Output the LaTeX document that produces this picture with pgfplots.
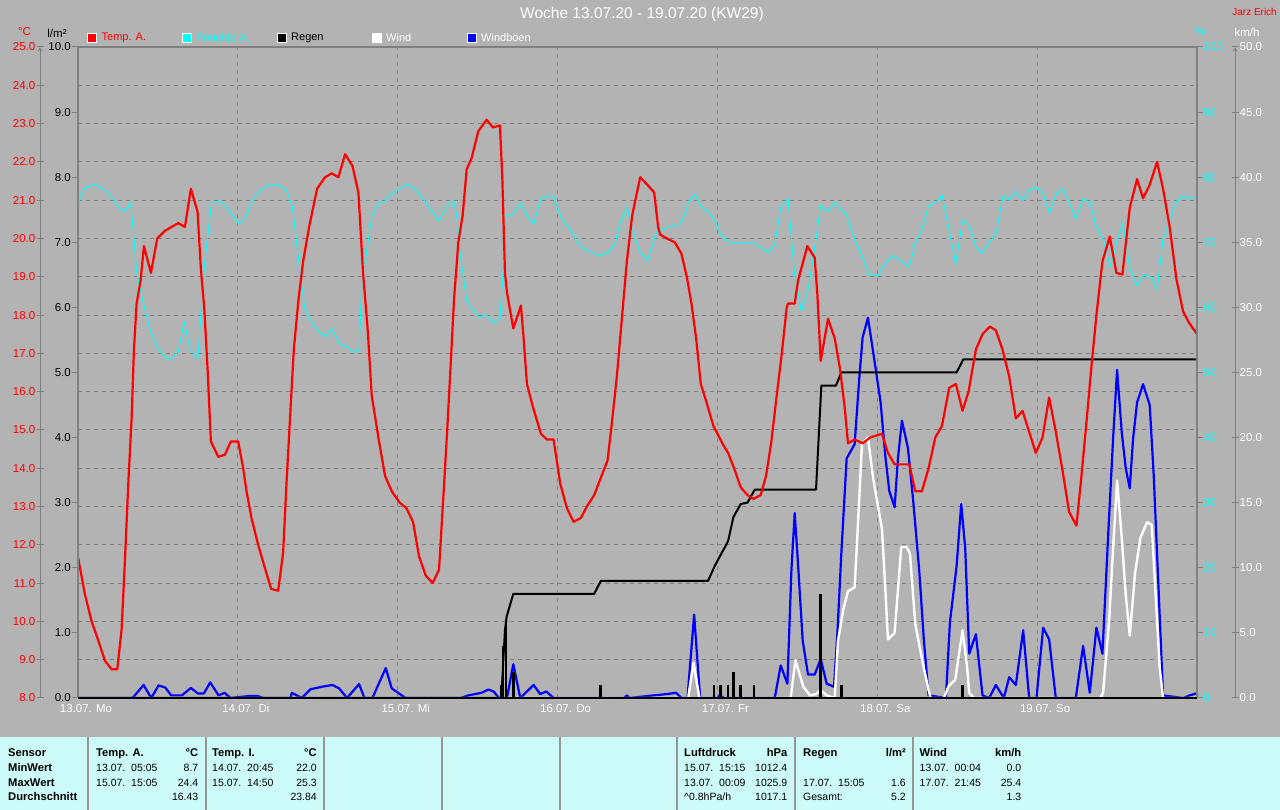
\documentclass[border=0pt]{standalone}
\usepackage{fontspec}
\setmainfont{Liberation Sans}
\usepackage{pgfplots}
\pgfplotsset{compat=1.18}
\definecolor{bg}{RGB}{179,179,179}
\definecolor{tbl}{RGB}{204,250,248}
\definecolor{grd}{RGB}{128,128,128}
\definecolor{sep}{RGB}{150,150,150}
\definecolor{cyan}{RGB}{0,255,255}
\definecolor{red}{RGB}{255,0,0}
\definecolor{blue}{RGB}{0,0,255}
\newcommand\tickfont{\fontsize{11.5}{13}\selectfont}
\newcommand\tabfont{\fontsize{10.5}{12}\selectfont}
\newcommand\hd[1]{{\fontsize{11.2}{12}\selectfont\bfseries #1}}
\pgfplotsset{base/.style={scale only axis, width=1119pt, height=651pt, xmin=0, xmax=168, anchor=south west},
  scaleax/.style={base, axis x line=none, y axis line style={-}, tick style={grd, line width=1pt}, yticklabel style={font=\tickfont}}}

\pgfplotstableread{
h T
0 11.68
1.05 10.7
2.05 10.0
3.05 9.5
4.05 8.97
5.05 8.75
5.9 8.75
6.55 9.8
7.05 11.6
7.55 13.6
8.05 15.3
8.4 17.1
8.8 18.3
9.4 18.9
9.9 19.8
10.95 19.1
11.9 20.0
13.05 20.2
14.05 20.3
15.05 20.4
16.05 20.3
16.95 21.3
17.95 20.7
18.45 19.2
18.95 18.2
19.45 16.6
19.95 14.7
21.05 14.3
22.05 14.35
22.95 14.7
24.05 14.7
24.8 14.0
25.3 13.4
26.05 12.7
27.05 12.0
28.05 11.4
29.0 10.85
30.05 10.8
30.8 11.8
31.3 13.6
31.8 15.2
32.4 17.1
33.1 18.4
33.8 19.4
34.7 20.3
35.9 21.3
37.1 21.6
38.1 21.7
39.1 21.6
40.1 22.2
41.2 21.9
42.1 21.2
42.8 19.1
43.5 17.6
44.1 15.9
45.1 14.8
46.1 13.8
47.1 13.4
48.3 13.1
49.3 12.96
50.3 12.6
51.2 11.7
52.2 11.2
53.25 11.0
54.2 11.35
54.8 13.1
55.4 14.9
55.95 16.7
56.45 18.4
57.1 19.9
57.75 20.6
58.35 21.8
59.1 22.1
60.1 22.8
61.35 23.1
62.3 22.9
63.35 22.95
63.7 21.6
64.1 19.1
64.4 18.6
65.35 17.65
66.5 18.25
66.9 17.4
67.4 16.2
68.3 15.6
69.5 14.9
70.4 14.75
71.4 14.75
72.4 13.6
73.4 12.96
74.4 12.6
75.5 12.7
76.4 13.0
77.5 13.3
78.6 13.8
79.5 14.2
80.1 15.1
80.9 16.4
81.6 17.8
82.4 19.4
83.2 20.6
84.4 21.6
85.5 21.4
86.5 21.2
87.1 20.3
87.4 20.1
88.4 20.0
89.6 19.9
90.6 19.6
91.4 19.0
92.1 18.3
92.8 17.4
93.5 16.2
94.4 15.7
95.4 15.1
96.9 14.6
97.6 14.4
98.5 14.0
99.5 13.5
100.5 13.3
101.4 13.2
102.5 13.3
103.3 13.8
104.1 14.7
104.9 15.9
105.6 16.9
106.4 18.2
106.6 18.3
107.6 18.3
108.1 18.9
109.5 19.8
110.6 19.5
111.0 18.55
111.5 16.8
112.6 17.9
113.6 17.4
114.4 16.6
115.1 15.6
115.6 14.65
116.6 14.75
117.8 14.65
118.9 14.8
120.7 14.9
121.6 14.4
122.6 14.1
123.9 14.1
124.8 14.1
125.7 13.4
126.7 13.4
127.7 14.0
128.7 14.8
129.7 15.1
130.8 16.1
131.8 16.2
132.8 15.5
133.7 16.0
134.8 17.1
135.8 17.5
136.9 17.7
137.8 17.6
138.8 17.1
139.8 16.4
140.8 15.3
141.8 15.5
142.8 14.95
143.8 14.4
144.8 14.8
145.8 15.85
146.8 14.95
147.8 13.95
148.8 12.86
149.9 12.5
150.6 13.7
151.4 15.2
152.2 16.75
152.9 18.0
153.8 19.4
154.9 20.05
155.9 19.1
156.8 19.06
157.9 20.8
159.0 21.55
159.9 21.05
160.9 21.4
162.0 22.0
162.9 21.3
163.9 20.3
164.9 18.95
165.9 18.1
166.8 17.8
168 17.5
}\temp

\pgfplotstableread{
h H
0 76.0
1.05 78.3
2.55 78.9
4.05 78.0
5.3 76.7
6.05 75.4
7.05 74.7
7.9 76.1
8.4 70.7
8.8 65.4
9.8 60.7
10.8 56.6
11.9 53.9
12.9 52.5
13.9 51.9
15.05 53.3
15.95 57.8
16.8 53.6
18.0 52.1
18.45 59.0
19.05 67.2
20.05 76.1
21.05 76.3
22.05 75.7
23.1 74.3
24.05 72.9
25.1 73.6
26.1 76.3
27.3 78.0
28.8 78.9
30.3 78.8
31.3 78.0
32.2 75.4
32.8 70.1
33.4 64.8
34.1 59.5
35.8 56.6
37.2 55.5
38.2 56.7
39.2 54.5
40.6 53.8
41.3 53.1
42.2 53.3
42.7 66.0
43.2 67.7
44.1 73.9
45.1 76.0
46.1 76.3
47.1 77.4
48.2 78.2
49.6 78.9
50.8 78.0
52.3 76.0
54.2 73.3
55.35 75.4
56.35 76.4
56.85 74.2
57.35 68.4
58.35 61.0
60.1 58.5
61.35 58.8
62.35 57.6
63.35 58.4
63.85 66.0
64.25 74.2
65.25 74.2
66.45 76.1
67.5 73.9
68.4 72.8
69.5 76.7
70.4 77.1
71.4 77.1
72.5 73.9
74.1 71.6
75.6 69.2
77.1 68.5
78.4 67.9
79.6 68.4
80.6 69.8
81.4 73.0
82.4 75.4
83.1 72.2
84.4 68.4
85.5 67.2
86.9 71.7
88.4 72.2
90.6 72.9
91.6 76.0
92.6 77.4
93.6 75.4
94.6 74.8
95.6 73.3
96.6 71.0
97.9 69.9
101.6 69.9
103.6 68.4
104.6 69.6
105.5 75.3
106.6 76.7
107.6 64.8
108.6 59.4
109.6 62.6
110.6 69.1
111.5 75.6
112.6 74.7
113.6 76.1
115.4 74.2
116.6 70.4
117.7 68.0
118.8 65.0
120.2 64.9
120.9 66.4
122.4 68.0
123.7 67.0
124.8 66.2
125.7 69.9
126.7 72.0
127.7 75.6
128.9 76.2
129.7 77.3
130.8 71.8
131.8 66.7
132.8 73.4
133.8 72.6
134.8 69.4
135.7 68.3
136.8 69.9
137.8 71.3
138.9 77.2
139.8 76.5
140.9 77.8
141.9 76.4
142.8 78.0
143.9 78.4
144.9 77.5
145.8 74.5
146.9 77.5
147.9 78.2
148.8 76.1
149.8 73.6
150.9 76.7
151.9 76.1
152.9 72.4
153.9 70.5
155.0 66.3
155.9 69.9
156.9 73.0
157.9 66.0
159.0 63.3
160.0 65.0
161.2 64.6
162.0 62.7
162.9 70.5
164.0 73.8
165.0 76.4
166.0 77.1
167.0 76.7
168 77.2
}\hum

\pgfplotstableread{
h R
0 0
63.5 0
63.65 0.17
63.85 0.58
64.1 1.04
64.35 1.25
65.35 1.6
77.5 1.6
78.5 1.8
94.6 1.8
95.6 2.03
96.6 2.22
97.6 2.41
98.4 2.78
99.5 2.98
100.5 3.0
101.6 3.2
110.8 3.2
111.6 4.8
113.8 4.8
114.6 5.0
131.9 5.0
132.9 5.2
168 5.2
}\raincum

\pgfplotstableread{
h R
63.5 0.2
63.8 0.8
64.25 1.2
65.35 0.4
78.4 0.2
95.5 0.2
96.5 0.2
97.6 0.2
98.4 0.4
99.5 0.2
101.5 0.2
111.5 1.6
114.6 0.2
132.8 0.2
}\rainbar

\pgfplotstableread{
h W
0 0
91.6 0
92.4 2.7
93.3 0
107.0 0
107.7 2.9
108.9 0.86
109.9 0.2
110.8 0.3
111.5 0.6
112.4 0.2
113.6 0
114.1 4.4
114.9 6.8
115.6 8.2
116.6 8.5
117.0 12.4
117.7 19.5
118.6 20.0
119.4 16.8
120.7 13.0
121.2 8.4
121.6 4.5
122.6 5.0
123.6 11.6
124.4 11.6
124.9 11.1
125.7 5.7
126.7 3.0
127.7 0.6
128.0 0
130.0 0
130.7 0.9
131.7 1.4
132.8 5.2
133.5 2.3
133.8 0.4
134.5 0
153.5 0
153.9 0.4
154.8 5.9
155.4 11.5
156.0 16.7
156.7 12.3
157.3 7.9
157.9 4.8
158.7 9.6
159.5 12.3
160.5 13.5
161.2 13.3
161.7 8.7
162.4 2.3
162.9 0
168 0
}\wind

\pgfplotstableread{
h W
0 0
8.2 0
9.85 1.0
11.0 0
12.1 0.97
13.1 0.8
14.0 0.2
15.6 0.2
16.95 0.77
18.0 0.35
18.9 0.35
19.85 1.2
21.1 0.2
22.0 0.4
22.9 0
25.7 0.15
27.0 0.15
27.8 0
31.9 0
32.1 0.4
33.6 0
34.9 0.67
36.7 0.87
38.2 1.0
39.2 0.74
40.4 0
42.2 1.07
43.0 0
44.2 0
46.2 2.3
47.1 0.74
48.6 0.2
49.2 0
57.5 0
58.6 0.2
60.6 0.4
61.6 0.65
62.4 0.5
63.2 0
64.4 0
65.35 2.6
66.4 0
68.4 1.0
69.4 0.3
70.3 0.5
71.4 0
82.0 0
82.4 0.2
82.8 0
86.4 0.2
88.4 0.3
89.8 0.4
90.6 0
91.5 0
92.5 6.4
93.4 0
96.0 0
96.4 0.2
97 0
104.6 0
105.5 2.5
106.5 1.1
107.1 9.75
107.6 14.2
108.1 10.3
108.8 4.4
109.6 1.8
110.6 1.8
111.5 3.0
112.4 1.1
113.5 0.86
114.0 4.9
114.6 11.1
115.4 18.4
116.6 19.5
117.3 24.6
117.8 27.7
118.6 29.2
119.4 26.5
120.5 22.7
121.2 18.6
121.8 15.9
122.6 14.65
123.1 18.4
123.7 21.3
124.6 19.2
125.4 15.1
126.3 9.75
127.0 4.4
127.7 0.2
130.3 0
130.9 5.8
131.9 10.1
132.6 14.9
133.2 11.5
133.8 3.4
134.8 4.9
135.8 0.2
136.8 0
137.8 1.0
139.0 0
139.8 1.6
140.8 1.0
141.9 5.2
142.8 0
143.9 0
144.9 5.4
145.8 4.5
146.8 0
149.8 0
150.9 4.0
151.9 0.4
152.9 5.4
153.8 3.4
154.7 12.9
155.4 19.9
156.0 25.2
156.7 20.4
157.3 17.65
157.9 16.1
158.4 19.9
159.0 22.7
159.9 24.1
160.9 22.5
161.5 17.1
162.2 8.7
162.9 0.2
165.9 0
166.9 0.2
167.9 0.35
168 0.4
}\gust

\begin{document}
\begin{tikzpicture}[x=1pt,y=1pt]
\path[use as bounding box] (0,0) rectangle (1280,810);
\fill[bg] (0,0) rectangle (1280,810);
\fill[tbl] (0,0) rectangle (1280,73);
\foreach \xx in {88,206,324,442,560,677,795,913} \draw[sep, line width=1.2pt] (\xx,0) -- (\xx,73);

% grid axis
\begin{axis}[base, at={(78pt,112pt)}, ymin=8, ymax=25,
  ytick={8,...,25}, yticklabels={},
  xtick={0,24,...,168},
  xticklabels={13.07. Mo,14.07. Di,15.07. Mi,16.07. Do,17.07. Fr,18.07. Sa,19.07. So,},
  xticklabel style={font=\tickfont, text=white, xshift=8pt, yshift=-3pt},
  grid=major, major grid style={grd, dash pattern=on 4pt off 4pt, line width=1pt},
  axis line style={draw=none}, major tick length=0pt]
\addplot[draw=none] coordinates {(0,8) (168,25)};
\end{axis}

% wind axis data
\begin{axis}[base, at={(78pt,112pt)}, ymin=0, ymax=50, hide axis]
\addplot[blue, line width=2.2pt, line join=round] table[x=h,y=W] {\gust};
\addplot[white, line width=2.4pt, line join=round] table[x=h,y=W] {\wind};
\end{axis}

% rain
\begin{axis}[base, at={(78pt,112pt)}, ymin=0, ymax=10, hide axis]
\addplot[black, ycomb, line width=2.6pt] table[x=h,y=R] {\rainbar};
\addplot[black, line width=2pt, line join=round] table[x=h,y=R] {\raincum};
\end{axis}

% humidity
\begin{axis}[base, at={(78pt,112pt)}, ymin=0, ymax=100, hide axis]
\addplot[cyan, line width=1pt, line join=round] table[x=h,y=H] {\hum};
\end{axis}

% temperature
\begin{axis}[base, at={(78pt,112pt)}, ymin=8, ymax=25, hide axis, clip=false]
\addplot[red, line width=2.2pt, line join=round] table[x=h,y=T] {\temp};
\draw[grd, line width=2pt] (rel axis cs:0,0) -- (rel axis cs:0,1) -- (rel axis cs:1,1) -- (rel axis cs:1,0);
\draw[black, line width=1.6pt] (rel axis cs:0,0) -- (rel axis cs:1,0);
\end{axis}

% left temperature scale
\begin{axis}[scaleax, at={(40pt,112pt)}, ymin=8, ymax=25, axis y line=left,
  y axis line style={grd, line width=1pt},
  ytick={8,...,25},
  yticklabels={8.0,9.0,10.0,11.0,12.0,13.0,14.0,15.0,16.0,17.0,18.0,19.0,20.0,21.0,22.0,23.0,24.0,25.0},
  tick align=center, major tick length=7pt,
  yticklabel style={text=red, inner xsep=1pt}]
\addplot[draw=none] coordinates {(0,8) (168,25)};
\end{axis}

% left rain scale
\begin{axis}[scaleax, at={(78pt,112pt)}, ymin=0, ymax=10, axis y line=left,
  y axis line style={draw=none},
  ytick={0,...,10},
  yticklabels={0.0,1.0,2.0,3.0,4.0,5.0,6.0,7.0,8.0,9.0,10.0},
  tick align=outside, major tick length=6pt,
  yticklabel style={text=black, inner xsep=1pt}]
\addplot[draw=none] coordinates {(0,0) (168,10)};
\end{axis}

% right humidity scale
\begin{axis}[scaleax, at={(78pt,112pt)}, ymin=0, ymax=100, axis y line=right,
  y axis line style={draw=none},
  ytick={0,10,...,100},
  yticklabels={0,10,20,30,40,50,60,70,80,90,100},
  tick align=outside, major tick length=6pt,
  yticklabel style={text=cyan, inner xsep=0.5pt}]
\addplot[draw=none] coordinates {(0,0) (168,100)};
\end{axis}

% right wind scale
\begin{axis}[scaleax, at={(116pt,112pt)}, ymin=0, ymax=50, axis y line=right,
  y axis line style={grd, line width=1pt},
  ytick={0,5,...,50},
  yticklabels={0.0,5.0,10.0,15.0,20.0,25.0,30.0,35.0,40.0,45.0,50.0},
  tick align=center, major tick length=7pt,
  yticklabel style={text=white, inner xsep=1pt}]
\addplot[draw=none] coordinates {(0,0) (168,50)};
\end{axis}

% header texts
\node[text=white, font=\fontsize{15.5}{18}\selectfont] at (642,795) {Woche 13.07.20 - 19.07.20 (KW29)};
\node[text=red, font=\fontsize{10}{12}\selectfont, anchor=east, inner sep=0] at (1277,798) {Jarz Erich};
\node[text=red, font=\tickfont] at (24.5,778) {°C};
\node[text=black, font=\tickfont] at (57,777) {l/m²};
\node[text=cyan, font=\tickfont] at (1201,778) {\%};
\node[text=white, font=\tickfont] at (1247,778) {km/h};

% legend
\begin{scope}[font=\fontsize{11}{13}\selectfont]
\filldraw[fill=red, draw=white, line width=1pt] (87.5,767.5) rectangle (96.5,776.5);
\node[text=red, anchor=west, inner sep=0] at (101.5,772) {Temp. A.};
\filldraw[fill=cyan, draw=white, line width=1pt] (182.5,767.5) rectangle (191.5,776.5);
\node[text=cyan, anchor=west, inner sep=0] at (196.5,772) {Feuchte A.};
\filldraw[fill=black, draw=white, line width=1pt] (277.5,767.5) rectangle (286.5,776.5);
\node[text=black, anchor=west, inner sep=0] at (291,772) {Regen};
\filldraw[fill=white, draw=white, line width=1pt] (372.5,767.5) rectangle (381.5,776.5);
\node[text=white, anchor=west, inner sep=0] at (386,772) {Wind};
\filldraw[fill=blue, draw=white, line width=1pt] (467.5,767.5) rectangle (476.5,776.5);
\node[text=white, anchor=west, inner sep=0] at (481,772) {Windböen};
\end{scope}

% table
\begin{scope}[font=\tabfont, every node/.style={inner sep=0}]
\node[anchor=base west] at (8,53) {\hd{Sensor}};
\node[anchor=base west] at (8,38.3) {\hd{MinWert}};
\node[anchor=base west] at (8,23.7) {\hd{MaxWert}};
\node[anchor=base west] at (8,9.3) {\hd{Durchschnitt}};
% Temp A
\node[anchor=base west] at (96,53) {\hd{Temp. A.}};
\node[anchor=base east] at (198.5,53) {\hd{°C}};
\node[anchor=base west] at (96,38.3) {13.07.\ \ 05:05};
\node[anchor=base east] at (198.5,38.3) {8.7};
\node[anchor=base west] at (96,23.7) {15.07.\ \ 15:05};
\node[anchor=base east] at (198.5,23.7) {24.4};
\node[anchor=base east] at (198.5,9.3) {16.43};
% Temp I
\node[anchor=base west] at (212,53) {\hd{Temp. I.}};
\node[anchor=base east] at (317,53) {\hd{°C}};
\node[anchor=base west] at (212,38.3) {14.07.\ \ 20:45};
\node[anchor=base east] at (317,38.3) {22.0};
\node[anchor=base west] at (212,23.7) {15.07.\ \ 14:50};
\node[anchor=base east] at (317,23.7) {25.3};
\node[anchor=base east] at (317,9.3) {23.84};
% Luftdruck
\node[anchor=base west] at (684,53) {\hd{Luftdruck}};
\node[anchor=base east] at (787.5,53) {\hd{hPa}};
\node[anchor=base west] at (684,38.3) {15.07.\ \ 15:15};
\node[anchor=base east] at (787.5,38.3) {1012.4};
\node[anchor=base west] at (684,23.7) {13.07.\ \ 00:09};
\node[anchor=base east] at (787.5,23.7) {1025.9};
\node[anchor=base west] at (684,9.3) {\^{}0.8hPa/h};
\node[anchor=base east] at (787.5,9.3) {1017.1};
% Regen
\node[anchor=base west] at (803,53) {\hd{Regen}};
\node[anchor=base east] at (906,53) {\hd{l/m²}};
\node[anchor=base west] at (803,23.7) {17.07.\ \ 15:05};
\node[anchor=base east] at (906,23.7) {1.6};
\node[anchor=base west] at (803,9.3) {Gesamt:};
\node[anchor=base east] at (906,9.3) {5.2};
% Wind
\node[anchor=base west] at (919.5,53) {\hd{Wind}};
\node[anchor=base east] at (1021.5,53) {\hd{km/h}};
\node[anchor=base west] at (919.5,38.3) {13.07.\ \ 00:04};
\node[anchor=base east] at (1021.5,38.3) {0.0};
\node[anchor=base west] at (919.5,23.7) {17.07.\ \ 21:45};
\node[anchor=base east] at (1021.5,23.7) {25.4};
\node[anchor=base east] at (1021.5,9.3) {1.3};
\end{scope}
\end{tikzpicture}
\end{document}
